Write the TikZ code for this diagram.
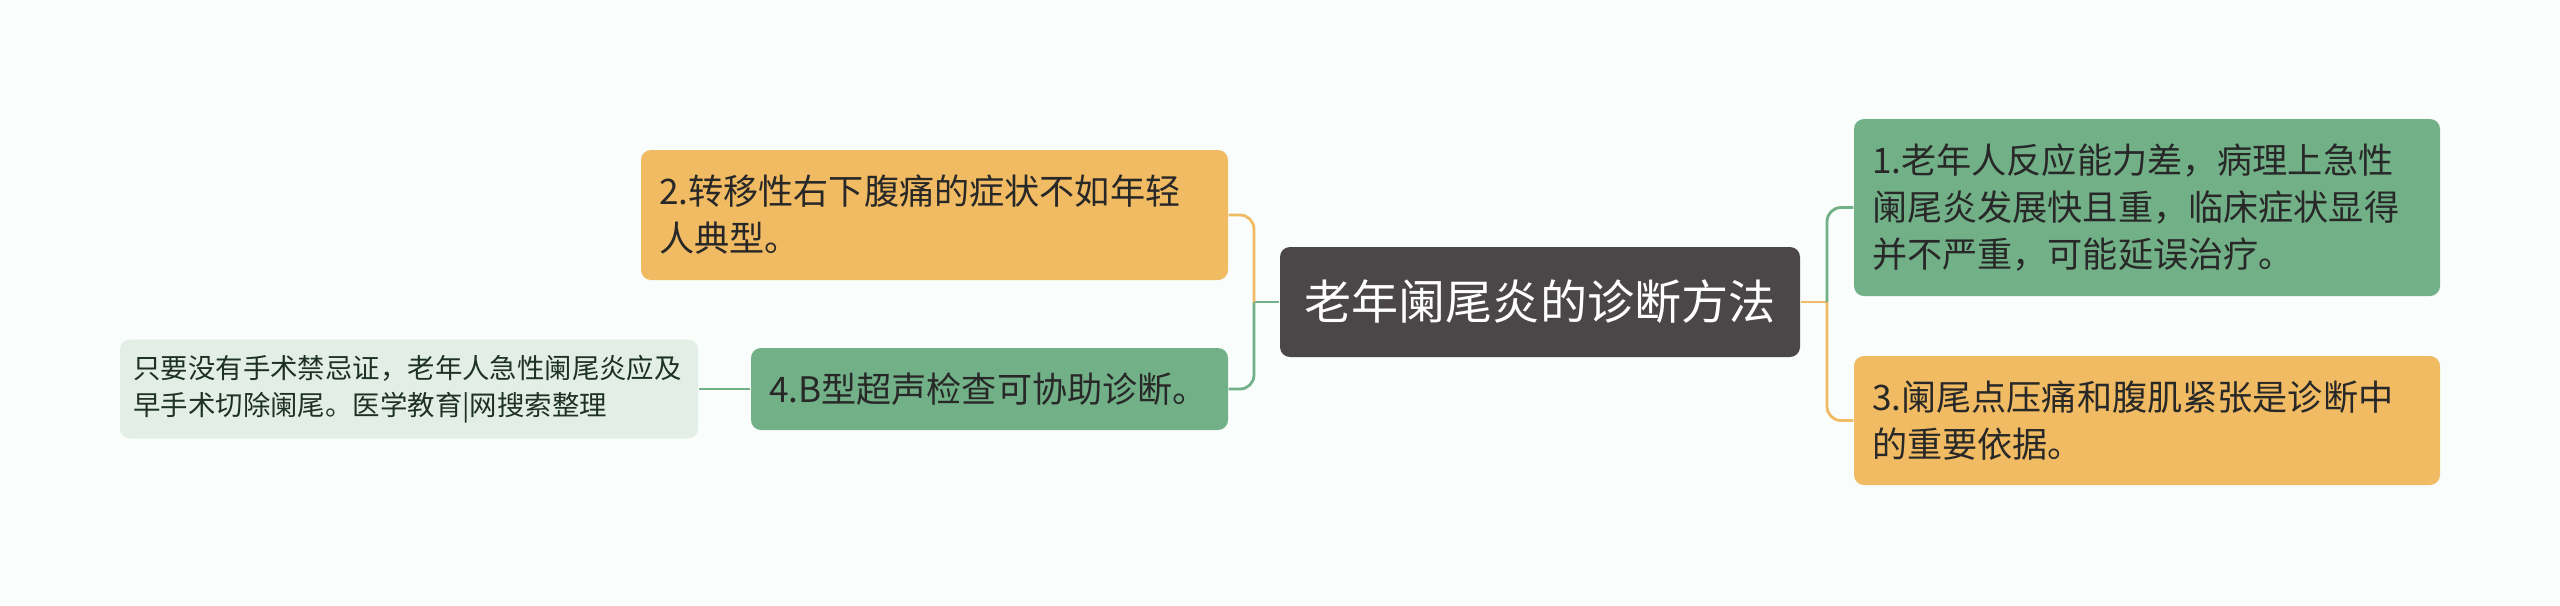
\documentclass[tikz,border=0pt]{standalone}
\usepackage{fontspec}
\setmainfont{Noto Sans CJK SC}
\definecolor{bgcol}{RGB}{249,253,252}
\definecolor{topiccol}{RGB}{75,70,71}
\definecolor{greencol}{RGB}{114,176,135}
\definecolor{orangecol}{RGB}{240,187,98}
\definecolor{notecol}{RGB}{227,239,230}
\definecolor{textcol}{RGB}{40,40,40}
\definecolor{notetext}{RGB}{30,50,36}

\begin{document}
\begin{tikzpicture}[
    topic/.style={rectangle, rounded corners=0.1cm, fill=topiccol, text=white, minimum width=5.2cm, minimum height=1.1cm, font=\fontsize{13.4pt}{16pt}\selectfont},
    branch/.style={rectangle, rounded corners=0.1cm, text=textcol, align=left, inner xsep=0.18cm, font=\fontsize{10pt}{13.4pt}\selectfont},
    greenbox/.style={branch, fill=greencol},
    orangebox/.style={branch, fill=orangecol},
    note/.style={rectangle, rounded corners=0.1cm, fill=notecol, text=notetext, align=left, inner xsep=0.135cm, font=\fontsize{7.8pt}{10.4pt}\selectfont},
    link/.style={line width=0.8pt, rounded corners=0.14cm}
]

% background
\fill[bgcol] (0,0) rectangle (25.6,6.05);
\useasboundingbox (0,0) rectangle (25.6,6.05);

% === CENTRE ===
\node[topic] (topic) at (15.40, 3.03) {老年阑尾炎的诊断方法};

% === RIGHT SIDE ===
\node[greenbox, text width=5.50cm, minimum height=1.77cm] (sub1) at (21.47, 3.975) {1.老年人反应能力差，病理上急性\\阑尾炎发展快且重，临床症状显得\\并不严重，可能延误治疗。};
\node[orangebox, text width=5.50cm, minimum height=1.29cm] (sub3) at (21.47, 1.845) {3.阑尾点压痛和腹肌紧张是诊断中\\的重要依据。};

% === LEFT SIDE ===
\node[orangebox, text width=5.51cm, minimum height=1.30cm] (sub2) at (9.345, 3.90) {2.转移性右下腹痛的症状不如年轻\\人典型。};
\node[greenbox, text width=4.41cm, minimum height=0.82cm] (sub4) at (9.895, 2.16) {4.B型超声检查可协助诊断。};
\node[note, text width=5.51cm, minimum height=0.99cm] (note4) at (4.09, 2.16) {只要没有手术禁忌证，老年人急性阑尾炎应及\\早手术切除阑尾。医学教育|网搜索整理};

% Junctions
\coordinate (rj) at (18.27, 3.03);
\coordinate (lj) at (12.54, 3.03);

% Connectors
\draw[link, orangecol] (topic.east) -- (rj);
\draw[link, orangecol] (rj) |- (sub3);
\draw[link, greencol] (rj) |- (sub1);
\draw[link, greencol] (topic.west) -- (lj);
\draw[link, greencol] (lj) |- (sub4);
\draw[link, orangecol] (lj) |- (sub2);
\draw[link, greencol] (sub4) -- (note4);

\end{tikzpicture}
\end{document}
